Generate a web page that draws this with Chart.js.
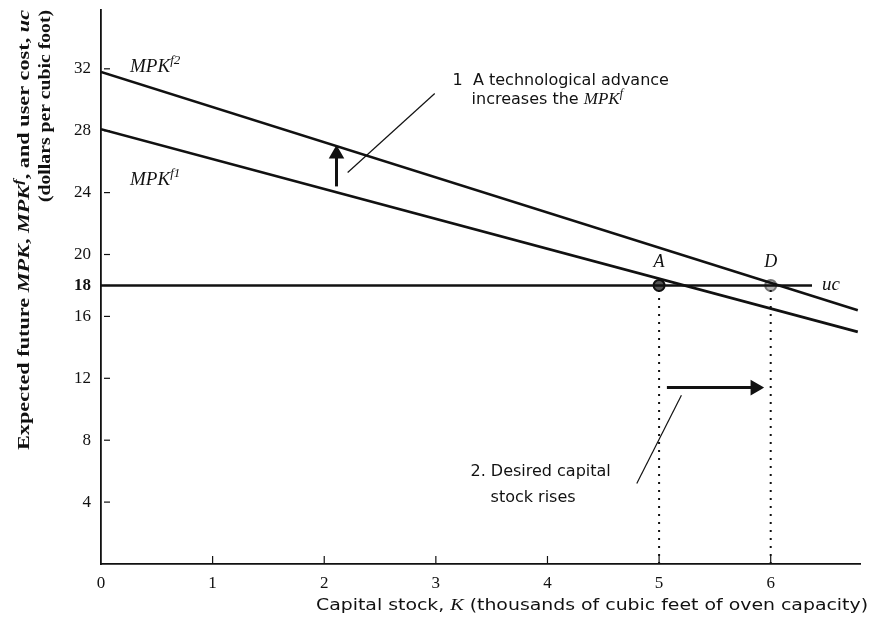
<!DOCTYPE html>
<html lang="en">
<head>
    <meta charset="UTF-8">
    <title>Desired capital stock and MPK shift</title>
    <style>
        body {
            margin: 0;
            padding: 0;
            background: #ffffff;
        }

        #chart-box {
            width: 872px;
            height: 619px;
        }
    </style>
</head>
<body>
<div id="chart-box">
    <canvas id="capital-chart" width="872" height="619"></canvas>
</div>

<script src="https://cdn.jsdelivr.net/npm/chart.js"></script>
<script>
    // data
    var xTicks = [0, 1, 2, 3, 4, 5, 6];
    var yTicks = [4, 8, 12, 16, 18, 20, 24, 28, 32];

    var mpk1X = [0, 6.78];
    var mpk1Y = [28.1, 15.0];
    var mpk2X = [0, 6.78];
    var mpk2Y = [31.8, 16.4];
    var ucX = [0, 6.37];
    var ucY = [18, 18];

    var pointA = [5, 18];
    var pointD = [6, 18];

    var upArrowX = [2.11, 2.11];
    var upArrowY = [24.4, 26.5];
    var rightArrowX = [5.07, 5.86];
    var rightArrowY = [11.4, 11.4];

    var leader1X = [2.99, 2.21];
    var leader1Y = [30.4, 25.3];
    var leader2X = [5.2, 4.8];
    var leader2Y = [10.9, 5.2];

    function pts(xs, ys) {
        var out = [];
        for (var i = 0; i < xs.length; i++) {
            out.push({x: xs[i], y: ys[i]});
        }
        return out;
    }

    var serif = '"Liberation Serif", "DejaVu Serif", serif';
    var sans = '"DejaVu Sans", "Open Sans", sans-serif';

    // draw a run of text pieces: [text, font, dy]
    function drawRich(ctx, pieces, x, y) {
        var cx = x;
        pieces.forEach(function (p) {
            ctx.font = p[1];
            ctx.fillText(p[0], cx, y + (p[2] || 0));
            cx += ctx.measureText(p[0]).width;
        });
        return cx - x;
    }

    function richWidth(ctx, pieces) {
        var w = 0;
        pieces.forEach(function (p) {
            ctx.font = p[1];
            w += ctx.measureText(p[0]).width;
        });
        return w;
    }

    // stretch a text run horizontally so it ends up `target` px long, ending at x
    function drawFitted(ctx, pieces, xEnd, y, target) {
        var w = richWidth(ctx, pieces);
        ctx.save();
        ctx.translate(xEnd - target, y);
        ctx.scale(target / w, 1);
        drawRich(ctx, pieces, 0, 0);
        ctx.restore();
    }

    var decorPlugin = {
        id: 'decor',
        afterDraw: function (chart) {
            var ctx = chart.ctx;
            var xs = chart.scales.x;
            var ys = chart.scales.y;
            var ax = chart.chartArea;
            ctx.save();
            ctx.fillStyle = '#111';
            ctx.strokeStyle = '#111';
            ctx.lineWidth = 1.2;
            ctx.textBaseline = 'middle';

            // small tick marks inside the axes
            yTicks.forEach(function (v) {
                var py = ys.getPixelForValue(v);
                ctx.beginPath();
                ctx.moveTo(ax.left + 3, py);
                ctx.lineTo(ax.left + 9, py);
                ctx.stroke();
            });
            xTicks.forEach(function (v) {
                if (v === 0) return;
                var px = xs.getPixelForValue(v);
                ctx.beginPath();
                ctx.moveTo(px, ax.bottom - 1);
                ctx.lineTo(px, ax.bottom - 8);
                ctx.stroke();
            });

            // curve labels
            var it = 'italic 19px ' + serif;
            var sup = 'italic 13px ' + serif;
            drawRich(ctx, [['MPK', it], ['f2', sup, -7]], xs.getPixelForValue(0.26), ys.getPixelForValue(32.1));
            drawRich(ctx, [['MPK', it], ['f1', sup, -7]], xs.getPixelForValue(0.26), ys.getPixelForValue(24.8));
            drawRich(ctx, [['uc', 'italic 19px ' + serif]], xs.getPixelForValue(6.46), ys.getPixelForValue(18));
            ctx.textAlign = 'center';
            ctx.font = 'italic 18px ' + serif;
            ctx.fillText('A', xs.getPixelForValue(pointA[0]), ys.getPixelForValue(19.5));
            ctx.fillText('D', xs.getPixelForValue(pointD[0]), ys.getPixelForValue(19.5));
            ctx.textAlign = 'left';

            // annotations
            var reg = '16px ' + sans;
            drawRich(ctx, [['1  A technological advance', reg]], xs.getPixelForValue(3.15), ys.getPixelForValue(31.2));
            drawRich(ctx, [['increases the ', reg], ['MPK', 'italic 17px ' + serif], ['f', 'italic 12px ' + serif, -6]],
                xs.getPixelForValue(3.32), ys.getPixelForValue(30.0));
            drawRich(ctx, [['2. Desired capital', reg]], xs.getPixelForValue(3.31), ys.getPixelForValue(5.95));
            drawRich(ctx, [['stock rises', reg]], xs.getPixelForValue(3.49), ys.getPixelForValue(4.3));

            // x axis title, right aligned
            var xt = [['Capital stock, ', '16px ' + sans], ['K', 'italic 17px ' + serif],
                [' (thousands of cubic feet of oven capacity)', '16px ' + sans]];
            drawFitted(ctx, xt, 868, 606, 552);

            // y axis title, rotated, starting from the top
            ctx.translate(25, 10);
            ctx.rotate(-Math.PI / 2);
            var b = 'bold 16px ' + serif;
            var bi = 'italic bold 16px ' + serif;
            var yt = [['Expected future ', b], ['MPK', bi], [', ', b], ['MPK', bi], ['f', 'italic bold 12px ' + serif, -6],
                [', and user cost, ', b], ['uc', bi]];
            drawFitted(ctx, yt, 0, 0, 440);
            drawFitted(ctx, [['(dollars per cubic foot)', b]], 0, 21, 192);
            ctx.restore();
        }
    };

    var lineStyle = {
        showLine: true,
        borderColor: '#111',
        borderWidth: 2.6,
        pointRadius: 0,
        fill: false
    };

    var ctx = document.getElementById('capital-chart').getContext('2d');
    var chart = new Chart(ctx, {
        type: 'scatter',
        data: {
            datasets: [
                Object.assign({label: 'MPKf1', data: pts(mpk1X, mpk1Y)}, lineStyle),
                Object.assign({label: 'MPKf2', data: pts(mpk2X, mpk2Y)}, lineStyle),
                Object.assign({label: 'uc', data: pts(ucX, ucY)}, lineStyle),
                {
                    label: 'dropA', data: pts([pointA[0], pointA[0]], [0, pointA[1]]),
                    showLine: true, borderColor: '#111', borderWidth: 2, borderDash: [2, 6], pointRadius: 0
                },
                {
                    label: 'dropD', data: pts([pointD[0], pointD[0]], [0, pointD[1]]),
                    showLine: true, borderColor: '#111', borderWidth: 2, borderDash: [2, 6], pointRadius: 0
                },
                {
                    label: 'upArrow', data: pts(upArrowX, upArrowY),
                    showLine: true, borderColor: '#111', borderWidth: 3,
                    pointRadius: [0, 6], pointStyle: 'triangle', rotation: 0,
                    backgroundColor: '#111', pointBorderColor: '#111'
                },
                {
                    label: 'rightArrow', data: pts(rightArrowX, rightArrowY),
                    showLine: true, borderColor: '#111', borderWidth: 3,
                    pointRadius: [0, 6], pointStyle: 'triangle', rotation: 90,
                    backgroundColor: '#111', pointBorderColor: '#111'
                },
                {
                    label: 'leader1', data: pts(leader1X, leader1Y),
                    showLine: true, borderColor: '#111', borderWidth: 1.2, pointRadius: 0
                },
                {
                    label: 'leader2', data: pts(leader2X, leader2Y),
                    showLine: true, borderColor: '#111', borderWidth: 1.2, pointRadius: 0
                },
                {
                    label: 'A', data: [{x: pointA[0], y: pointA[1]}],
                    pointRadius: 5.5, backgroundColor: '#555', pointBorderColor: '#111', pointBorderWidth: 2
                },
                {
                    label: 'D', data: [{x: pointD[0], y: pointD[1]}],
                    pointRadius: 5.5, backgroundColor: '#b5b5b5', pointBorderColor: '#777', pointBorderWidth: 2
                }
            ]
        },
        options: {
            responsive: false,
            animation: false,
            layout: {padding: {top: 10, right: 12, left: 0, bottom: 0}},
            plugins: {
                legend: {display: false},
                tooltip: {enabled: false}
            },
            scales: {
                x: {
                    type: 'linear',
                    min: 0,
                    max: 6.8,
                    afterFit: function (s) {
                        s.height = 55;
                        s.paddingLeft = 0;
                        s.paddingRight = 0;
                    },
                    afterBuildTicks: function (s) {
                        s.ticks = xTicks.map(function (v) { return {value: v}; });
                    },
                    grid: {display: false, drawTicks: false},
                    border: {display: true, color: '#111', width: 1.8},
                    ticks: {
                        padding: 9,
                        color: '#111',
                        font: {family: serif, size: 17},
                        callback: function (v) { return String(v); }
                    }
                },
                y: {
                    type: 'linear',
                    min: 0,
                    max: 35.8,
                    afterFit: function (s) {
                        s.width = 101;
                        s.paddingTop = 0;
                        s.paddingBottom = 0;
                    },
                    afterBuildTicks: function (s) {
                        s.ticks = yTicks.map(function (v) { return {value: v}; });
                    },
                    grid: {display: false, drawTicks: false},
                    border: {display: true, color: '#111', width: 1.8},
                    ticks: {
                        padding: 10,
                        color: '#111',
                        font: function (c) {
                            return {family: serif, size: 17, weight: c.tick && c.tick.value === 18 ? 'bold' : 'normal'};
                        },
                        callback: function (v) { return String(v); }
                    }
                }
            }
        },
        plugins: [decorPlugin]
    });
</script>
</body>
</html>
